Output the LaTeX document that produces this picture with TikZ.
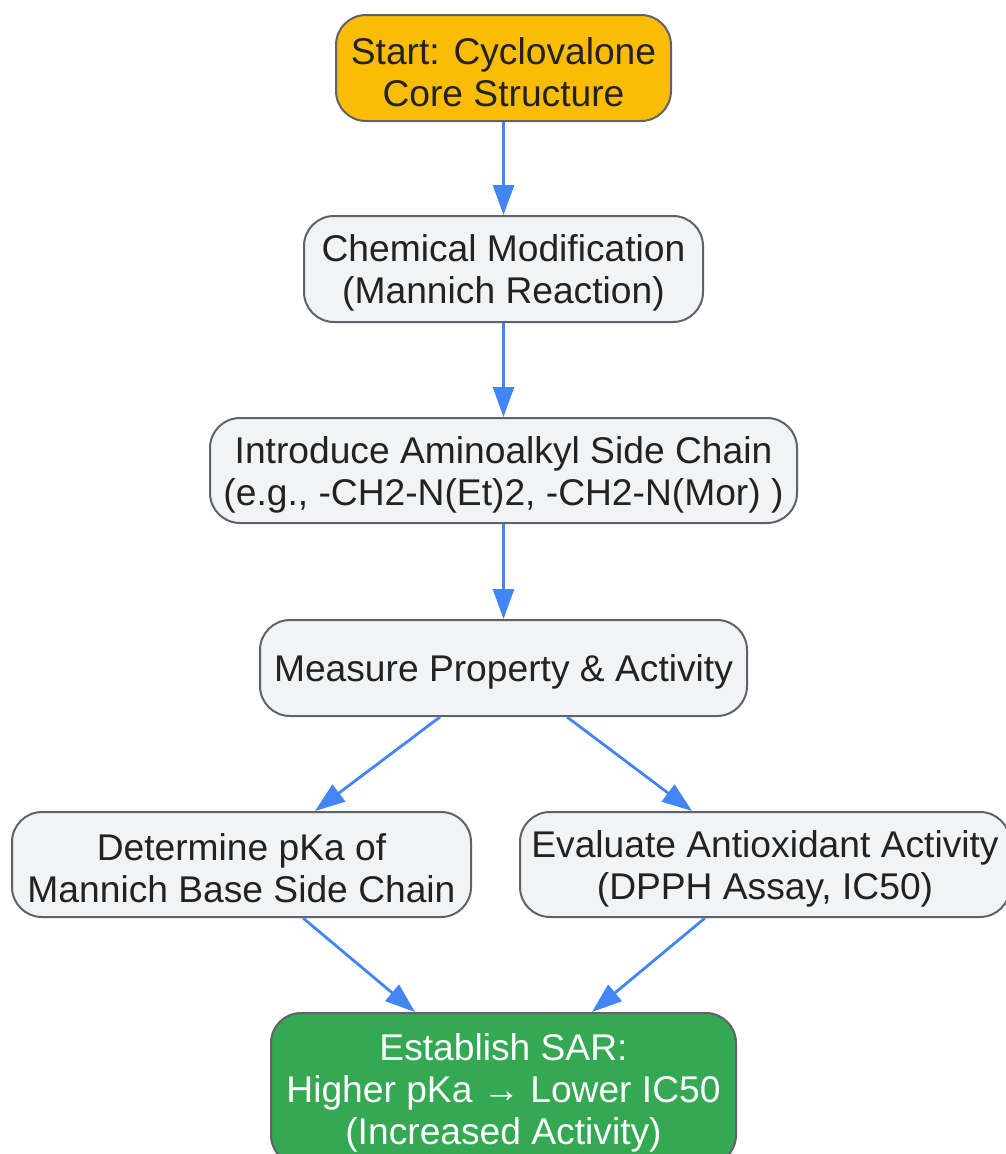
\documentclass[tikz,border=0pt]{standalone}
\usepackage{fontspec}
\setmainfont{Liberation Sans}
\usetikzlibrary{arrows.meta}
\definecolor{txt}{HTML}{222222}
\definecolor{boxfill}{HTML}{F1F3F4}
\definecolor{boxline}{HTML}{5F6368}
\definecolor{startfill}{HTML}{FBBC05}
\definecolor{endfill}{HTML}{34A853}
\definecolor{arrowc}{HTML}{4285F4}
\begin{document}
\begin{tikzpicture}[x=1pt,y=1pt,
  flowbox/.style={draw=boxline, line width=2pt, fill=boxfill, rounded corners=30pt, inner sep=0pt},
  boxtext/.style={align=center, text=txt, inner sep=0pt, yshift=-4pt, font=\fontsize{37.2}{42}\selectfont},
  conn/.style={draw=arrowc, line width=2.8pt, -{Triangle[length=30pt,width=21pt]}}]
\useasboundingbox (0,0) rectangle (1006,-1154);
\node[flowbox, fill=startfill, minimum width=335pt, minimum height=106pt,
  label={[boxtext]center:{Start: Cyclovalone\\Core Structure}}] (start) at (503.5,-68) {};
\node[flowbox, minimum width=399pt, minimum height=106pt,
  label={[boxtext]center:{Chemical Modification\\(Mannich Reaction)}}] (chem) at (503.5,-269) {};
\node[flowbox, minimum width=587pt, minimum height=105pt,
  label={[boxtext]center:{Introduce Aminoalkyl Side Chain\\(e.g., -CH2-N(Et)2, -CH2-N(Mor) )}}] (intro) at (503.5,-470.5) {};
\node[flowbox, minimum width=487pt, minimum height=96pt,
  label={[boxtext]center:{Measure Property \& Activity}}] (meas) at (503.5,-668) {};
\node[flowbox, minimum width=459pt, minimum height=105pt,
  label={[boxtext]center:{Determine pKa of\\Mannich Base Side Chain}}] (det) at (241.5,-864.5) {};
\node[flowbox, minimum width=490pt, minimum height=105pt,
  label={[boxtext]center:{Evaluate Antioxidant Activity\\(DPPH Assay, IC50)}}] (eval) at (765,-864.5) {};
\node[flowbox, fill=endfill, minimum width=465pt, minimum height=152pt,
  label={[boxtext, text=white]center:{Establish SAR:\\Higher pKa → Lower IC50\\(Increased Activity)}}] (estab) at (503.5,-1089) {};
\draw[conn] (start.south) -- (chem.north);
\draw[conn] (chem.south) -- (intro.north);
\draw[conn] (intro.south) -- (meas.north);
\draw[conn] ([xshift=-63.5pt]meas.south) -- ([xshift=73.5pt]det.north);
\draw[conn] ([xshift=63.5pt]meas.south) -- ([xshift=-73pt]eval.north);
\draw[conn] ([xshift=61.5pt]det.south) -- ([xshift=-88.5pt]estab.north);
\draw[conn] ([xshift=-60pt]eval.south) -- ([xshift=88.5pt]estab.north);
\end{tikzpicture}
\end{document}
